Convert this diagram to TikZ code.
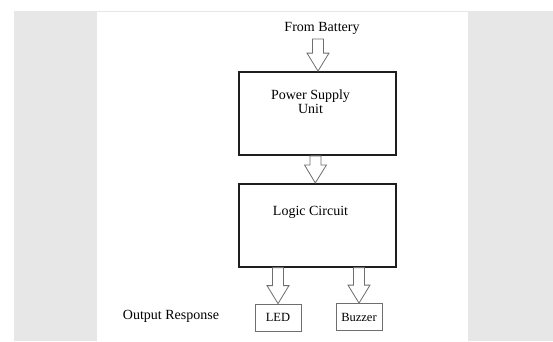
\documentclass[tikz,border=0pt]{standalone}
\usepackage{fontspec}
\setmainfont{Liberation Serif}
\usepackage{tikz}
\usetikzlibrary{positioning, calc}

\definecolor{pagegrey}{HTML}{E8E7E8}
\definecolor{arrowgrey}{HTML}{6E6E6E}
\definecolor{boxline}{HTML}{1E1E1E}

\tikzset{
    mainbox/.style={draw=boxline, line width=1.8pt, minimum width=157pt, minimum height=83pt, inner sep=0pt},
    outbox/.style={draw=arrowgrey, line width=0.8pt, minimum width=46pt, minimum height=27pt, inner sep=0pt, font=\fontsize{12.5}{13}\selectfont},
    bigtext/.style={font=\fontsize{14}{14}\selectfont, align=center, inner sep=0pt},
    blockarrow/.style={draw=arrowgrey, fill=white, line width=0.8pt, line join=miter}
}

% hollow block arrow between two points
\newcommand{\hollowarrow}[2]{%
    \draw[blockarrow] let \p1=#1, \p2=#2 in
        (\x1-5.5pt,\y1) -- (\x1-5.5pt,\y2+18pt) -- (\x1-11pt,\y2+18pt) -- (\x2,\y2)
        -- (\x1+11pt,\y2+18pt) -- (\x1+5.5pt,\y2+18pt) -- (\x1+5.5pt,\y1) -- cycle;
}

\begin{document}
\begin{tikzpicture}[x=1pt, y=-1pt]
        \useasboundingbox (0,0) rectangle (553,341);
        % page background
        \fill[white] (0,0) rectangle (553,341);
        \fill[pagegrey] (14,11) rectangle (553,341);
        \fill[white] (97,12) rectangle (468,341);

        % blocks
        \node[mainbox] (psu) at (317.5,113.5) {};
        \node[mainbox] (logic) at (317.3,225.3) {};
        \node[outbox] (led) at (278,317.5) {LED};
        \node[outbox] (buzzer) at (359,317) {Buzzer};

        % texts
        \node[bigtext] (battery) at (322,28) {From Battery};
        \node[bigtext] (psutext) at (310.5,102) {Power Supply\\Unit};
        \node[bigtext] (logictext) at (310.5,212.5) {Logic Circuit};
        \node[bigtext] (response) at (171,316) {Output Response};

        % arrows
        \coordinate (batin) at (318,39);
        \hollowarrow{(batin)}{(psu.north -| batin)}
        \hollowarrow{([xshift=-2pt]psu.south)}{([xshift=-2pt]logic.north)}
        \hollowarrow{(logic.south -| led.north)}{(led.north)}
        \hollowarrow{(logic.south -| buzzer.north)}{(buzzer.north)}
\end{tikzpicture}
\end{document}
